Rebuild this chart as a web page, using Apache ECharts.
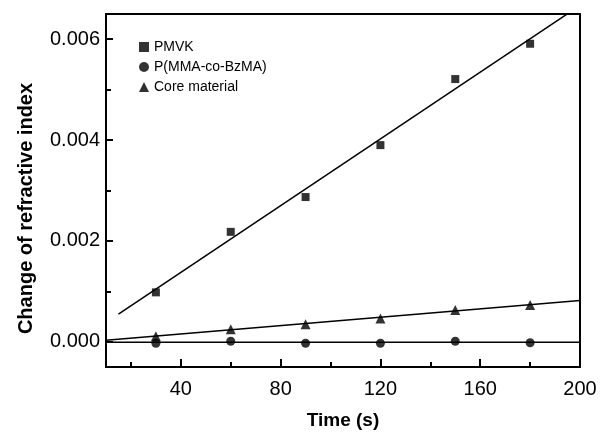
<!DOCTYPE html>
<html>
<head>
<meta charset="utf-8">
<script src="https://cdn.jsdelivr.net/npm/echarts@6/dist/echarts.min.js"></script>
<style>
  html, body { margin: 0; padding: 0; background: #fff; }
  #chart { width: 600px; height: 435px; }
</style>
</head>
<body>
<div id="chart"></div>
<script>
// measured points
const times = [30, 60, 90, 120, 150, 180];
const pmvk = [0.00098, 0.00218, 0.00287, 0.0039, 0.00521, 0.00591];
const pmma = [-0.00003, 0.00001, -0.00003, -0.00003, 0.00001, -0.00002];
const core = [0.00011, 0.00025, 0.00035, 0.00046, 0.00063, 0.00073];

// fitted lines, end points
const pmvkFit = [[15, 0.00055], [200, 0.00667]];
const pmmaFit = [[10, -0.00001], [200, -0.00001]];
const coreFit = [[10, 0.00003], [200, 0.00082]];

// ticks and labels
const xLabels = [40, 80, 120, 160, 200];
const xMinor = [20, 60, 100, 140, 180];
const yLabels = [0, 0.002, 0.004, 0.006];
const yMinor = [0.001, 0.003, 0.005];

const FONT = "Liberation Sans, Arial, sans-serif";
const pts = (ys) => times.map((t, i) => [t, ys[i]]);

function axis(kind, extra) {
    const base = {
        type: "value",
        min: kind === "x" ? 10 : -0.0005,
        max: kind === "x" ? 200 : 0.0065,
        splitLine: { show: false },
        axisLine: { show: true, onZero: false, lineStyle: { color: "#000", width: 2 } },
        axisTick: { show: false },
        axisLabel: { show: false }
    };
    return Object.assign(base, extra);
}
function ticks(values, length) {
    return { show: true, inside: true, length: length, lineStyle: { color: "#000", width: 2 }, customValues: values };
}

const chart = echarts.init(document.getElementById("chart"));
chart.setOption({
    animation: false,
    backgroundColor: "#fff",
    grid: { left: 106, right: 20, top: 14, bottom: 68 },
    legend: {
        orient: "vertical", left: 134, top: 35, itemGap: 6,
        itemWidth: 10, itemHeight: 10,
        textStyle: { fontFamily: FONT, fontSize: 14, color: "#000" },
        data: [
            { name: "PMVK", icon: "rect" },
            { name: "P(MMA-co-BzMA)", icon: "circle" },
            { name: "Core material", icon: "triangle" }
        ]
    },
    xAxis: [
        axis("x", {
            position: "bottom",
            name: "Time (s)", nameLocation: "middle", nameGap: 44,
            nameTextStyle: { fontFamily: FONT, fontSize: 19, fontWeight: "bold", color: "#000" },
            axisTick: ticks(xLabels, 8),
            axisLabel: { show: true, fontFamily: FONT, fontSize: 20, color: "#000", margin: 12, customValues: xLabels }
        }),
        axis("x", { position: "bottom", axisTick: ticks(xMinor, 5) }),
        axis("x", { position: "top" })
    ],
    yAxis: [
        axis("y", {
            position: "left",
            name: "Change of refractive index", nameLocation: "middle", nameGap: 70,
            nameTextStyle: { fontFamily: FONT, fontSize: 20, fontWeight: "bold", color: "#000", padding: [0, 36, 0, 0] },
            axisTick: ticks(yLabels, 7),
            axisLabel: { show: true, fontFamily: FONT, fontSize: 20, color: "#000", margin: 6, customValues: yLabels,
                formatter: (v) => v.toFixed(3) }
        }),
        axis("y", { position: "left", axisTick: ticks(yMinor, 5) }),
        axis("y", { position: "right" })
    ],
    series: [
        { name: "PMVK", type: "scatter", symbol: "rect", symbolSize: 8, itemStyle: { color: "#000" }, data: pts(pmvk), z: 3 },
        { name: "P(MMA-co-BzMA)", type: "scatter", symbol: "circle", symbolSize: 9, itemStyle: { color: "#000" }, data: pts(pmma), z: 3 },
        { name: "Core material", type: "scatter", symbol: "triangle", symbolSize: 10, itemStyle: { color: "#000" }, data: pts(core), z: 3 },
        { type: "line", data: pmvkFit, showSymbol: false, clip: true, lineStyle: { color: "#000", width: 1.5 }, silent: true },
        { type: "line", data: pmmaFit, showSymbol: false, clip: true, lineStyle: { color: "#000", width: 1.5 }, silent: true },
        { type: "line", data: coreFit, showSymbol: false, clip: true, lineStyle: { color: "#000", width: 1.5 }, silent: true }
    ]
});
</script>
</body>
</html>
